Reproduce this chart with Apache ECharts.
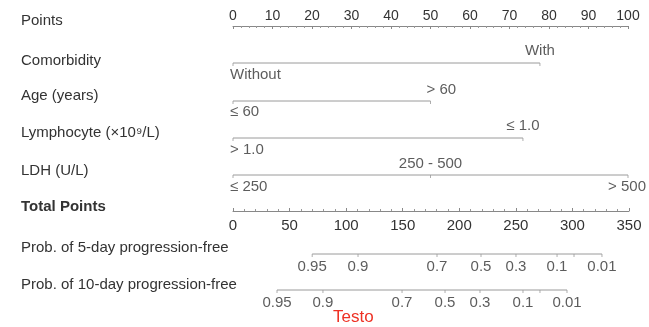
<!DOCTYPE html>
<html><head><meta charset="utf-8">
<script src="https://cdn.jsdelivr.net/npm/echarts@6/dist/echarts.min.js"></script>
<style>html,body{margin:0;padding:0;background:#fff}#c{width:649px;height:327px}</style>
</head><body><div id="c"></div>
<script>
// ---- data ----
const rowNames = ['Points','Comorbidity','Age (years)','Lymphocyte (×10⁹/L)','LDH (U/L)','Total Points','Prob. of 5-day progression-free','Prob. of 10-day progression-free'];
const pointsRange = [0, 100];
const totalPointsRange = [0, 350];
const comorbidityLevels = ['Without','With'];
const comorbidityPoints = [0, 77.7];
const ageLevels = ['≤ 60','> 60'];
const agePoints = [0, 50];
const lymphocyteLevels = ['> 1.0','≤ 1.0'];
const lymphocytePoints = [0, 73.4];
const ldhLevels = ['≤ 250','250 - 500','> 500'];
const ldhPoints = [0, 50, 100];
const probValues = [0.95, 0.9, 0.7, 0.5, 0.3, 0.1, 0.05, 0.01];
const probLabelShown = [true, true, true, true, true, true, false, true];
const prob5TotalPoints = [70, 110.5, 180.3, 219.2, 250.1, 286.4, 301.4, 326.1];
const prob10TotalPoints = [38.9, 79.5, 149.4, 187.4, 218.3, 256.3, 271.3, 295.2];
const footnote = 'Testo';

// ---- layout ----
const FONT = "'Liberation Sans', Arial, sans-serif";
const TXT = '#333';
const LINE = '#9a9a9a';
const rowY = [25, 63, 101, 138, 175, 212, 254, 290];
const labelY = [21, 61, 96, 133, 171, 207, 248, 285];
const GL = 233, GW = 395;

const grids = [], xAxes = [], yAxes = [], series = [];
rowY.forEach((y, i) => {
  if (i === 0) grids.push({left: GL, width: GW, top: y, height: 2});
  else if (i === 5) grids.push({left: GL, width: GW + 1, top: y - 2, height: 2});
  else grids.push({left: GL, width: (i >= 6 ? GW + 1 : GW), top: y - 1, height: 2});
  yAxes.push({gridIndex: i, type: 'value', min: -1, max: 1, show: false});
});

xAxes.push({
  gridIndex: 0, type: 'value', min: pointsRange[0], max: pointsRange[1], interval: 10, position: 'top',
  axisLine: {show: true, lineStyle: {color: '#888', width: 1}},
  axisTick: {show: true, inside: true, length: 3, lineStyle: {color: '#888'}},
  minorTick: {show: true, splitNumber: 5, length: 2, lineStyle: {color: '#999'}},
  axisLabel: {fontSize: 14, color: TXT, fontFamily: FONT, margin: 2},
  splitLine: {show: false}
});
for (let i = 1; i <= 4; i++) xAxes.push({gridIndex: i, type: 'value', min: pointsRange[0], max: pointsRange[1], show: false});
xAxes.push({
  gridIndex: 5, type: 'value', min: totalPointsRange[0], max: totalPointsRange[1], interval: 50, position: 'bottom',
  axisLine: {show: true, lineStyle: {color: '#888', width: 1}},
  axisTick: {show: true, inside: true, length: 3, lineStyle: {color: '#888'}},
  minorTick: {show: true, splitNumber: 5, length: 2, lineStyle: {color: '#999'}},
  axisLabel: {fontSize: 15, color: TXT, fontFamily: FONT, margin: 6},
  splitLine: {show: false}
});
for (let i = 6; i <= 7; i++) xAxes.push({gridIndex: i, type: 'value', min: totalPointsRange[0], max: totalPointsRange[1], show: false});

function rowSeries(i, pts, labels, labelCfg) {
  series.push({
    type: 'line', xAxisIndex: i, yAxisIndex: i, silent: true, animation: false,
    data: [[Math.min(...pts), 0], [Math.max(...pts), 0]],
    symbol: 'none', lineStyle: {color: LINE, width: 1}
  });
  series.push({
    type: 'scatter', xAxisIndex: i, yAxisIndex: i, silent: true, animation: false,
    data: pts.map(p => [p, 0]),
    symbol: 'rect', symbolSize: [1, 3], symbolOffset: [0, 1.5], itemStyle: {color: LINE}
  });
  series.push({
    type: 'scatter', xAxisIndex: i, yAxisIndex: i, silent: true, animation: false,
    symbol: 'circle', symbolSize: 1, itemStyle: {color: 'rgba(0,0,0,0)'},
    data: pts.map((p, k) => {
      const c = labelCfg(k);
      return {
        value: [p, 0],
        label: {show: labels[k] !== '', formatter: labels[k], position: 'inside', align: c.align,
          verticalAlign: 'middle', offset: [c.dx, c.dy], fontSize: 15, color: TXT, fontFamily: FONT}
      };
    })
  });
}
const varCfg = (k) => k === 0 ? {align: 'left', dx: -3, dy: 12} : {align: 'center', dx: 0, dy: -12};
rowSeries(1, comorbidityPoints, comorbidityLevels, varCfg);
rowSeries(2, agePoints, ageLevels, (k) => k === 0 ? {align: 'left', dx: -3, dy: 11} : {align: 'left', dx: -4, dy: -11});
rowSeries(3, lymphocytePoints, lymphocyteLevels, varCfg);
rowSeries(4, ldhPoints, ldhLevels, (k) => k === 0 ? {align: 'left', dx: -3, dy: 12} :
  (k === ldhPoints.length - 1 ? {align: 'center', dx: -1, dy: 12} : {align: 'center', dx: 0, dy: -11}));
const probText = probValues.map((v, k) => probLabelShown[k] ? String(v) : '');
const probCfg = () => ({align: 'center', dx: 0, dy: 13});
rowSeries(6, prob5TotalPoints, probText, probCfg);
rowSeries(7, prob10TotalPoints, probText, probCfg);

const graphics = rowNames.map((t, i) => ({
  type: 'text', x: 21, y: labelY[i], silent: true,
  style: {text: t, fill: TXT, font: (i === 5 ? 'bold ' : '') + '15px ' + FONT,
    align: 'left', verticalAlign: 'middle', textAlign: 'left', textVerticalAlign: 'middle'}
}));
graphics.push({
  type: 'text', x: 333, y: 317, silent: true,
  style: {text: footnote, fill: '#ee3124', font: '17px ' + FONT,
    align: 'left', verticalAlign: 'middle', textAlign: 'left', textVerticalAlign: 'middle'}
});

const chart = echarts.init(document.getElementById('c'), null, {renderer: 'canvas'});
chart.setOption({
  animation: false,
  backgroundColor: '#fff',
  grid: grids, xAxis: xAxes, yAxis: yAxes, series: series,
  graphic: {elements: graphics}
});
</script></body></html>
